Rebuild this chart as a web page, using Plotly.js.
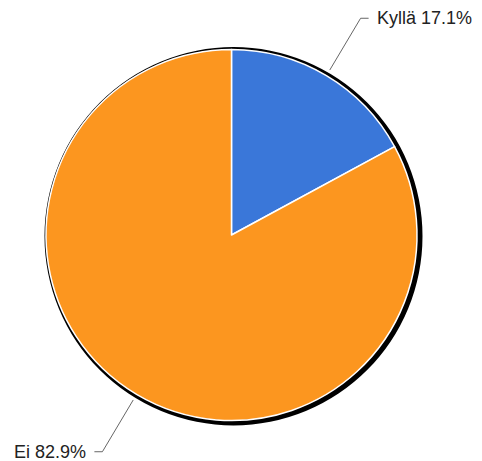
<!DOCTYPE html>
<html>
<head>
<meta charset="utf-8">
<script src="https://cdn.plot.ly/plotly-3.0.1.min.js"></script>
<style>html,body{margin:0;padding:0;background:#fff;}#chart{width:482px;height:461px;}</style>
</head>
<body>
<div id="chart"></div>
<script>
const labels = ["Kyllä", "Ei"];
const values = [17.1, 82.9];
const colors = ["#3a77d9", "#fc961f"];

const W = 482, H = 461;
const cx = 231.5, cy = 235, r = 185.5;
const px = x => x / W;
const py = y => 1 - y / H;

const total = values.reduce((a, b) => a + b, 0);
const shapes = [{
  type: "circle", xref: "paper", yref: "paper", layer: "below",
  x0: px(cx - r - 1.5), x1: px(cx + r + 5.5), y0: py(cy + r + 5), y1: py(cy - r - 2.5),
  fillcolor: "#000", line: {width: 0}
}];
const annotations = [];
let cum = 0;
values.forEach((v, i) => {
  const mid = (cum + v / 2) / total * 2 * Math.PI;
  cum += v;
  const s = Math.sin(mid), c = Math.cos(mid);
  const x1 = cx + r * 1.035 * s, y1 = cy - r * 1.035 * c;
  const x2 = cx + r * 1.36 * s, y2 = cy - r * 1.36 * c;
  const dir = s >= 0 ? 1 : -1;
  const x3 = x2 + dir * 8;
  shapes.push({
    type: "path", xref: "paper", yref: "paper",
    path: `M ${px(x1)} ${py(y1)} L ${px(x2)} ${py(y2)} L ${px(x3)} ${py(y2)}`,
    line: {color: "#666", width: 1}
  });
  annotations.push({
    xref: "paper", yref: "paper", x: px(x3 + dir * 6), y: py(y2),
    xanchor: dir > 0 ? "left" : "right", yanchor: "middle", showarrow: false,
    text: labels[i] + " " + v.toFixed(1) + "%",
    font: {family: "Liberation Sans, Arial, sans-serif", size: 18, color: "#222"}
  });
});

const trace = {
  type: "pie", labels: labels, values: values, sort: false, direction: "clockwise", rotation: 0,
  marker: {colors: colors, line: {color: "#fff", width: 1.5}},
  textinfo: "none", hoverinfo: "none",
  domain: {x: [px(cx - r), px(cx + r)], y: [py(cy + r), py(cy - r)]}
};

Plotly.newPlot("chart", [trace], {
  width: W, height: H, margin: {l: 0, r: 0, t: 0, b: 0},
  showlegend: false, paper_bgcolor: "#fff",
  shapes: shapes, annotations: annotations
}, {staticPlot: true});
</script>
</body>
</html>
